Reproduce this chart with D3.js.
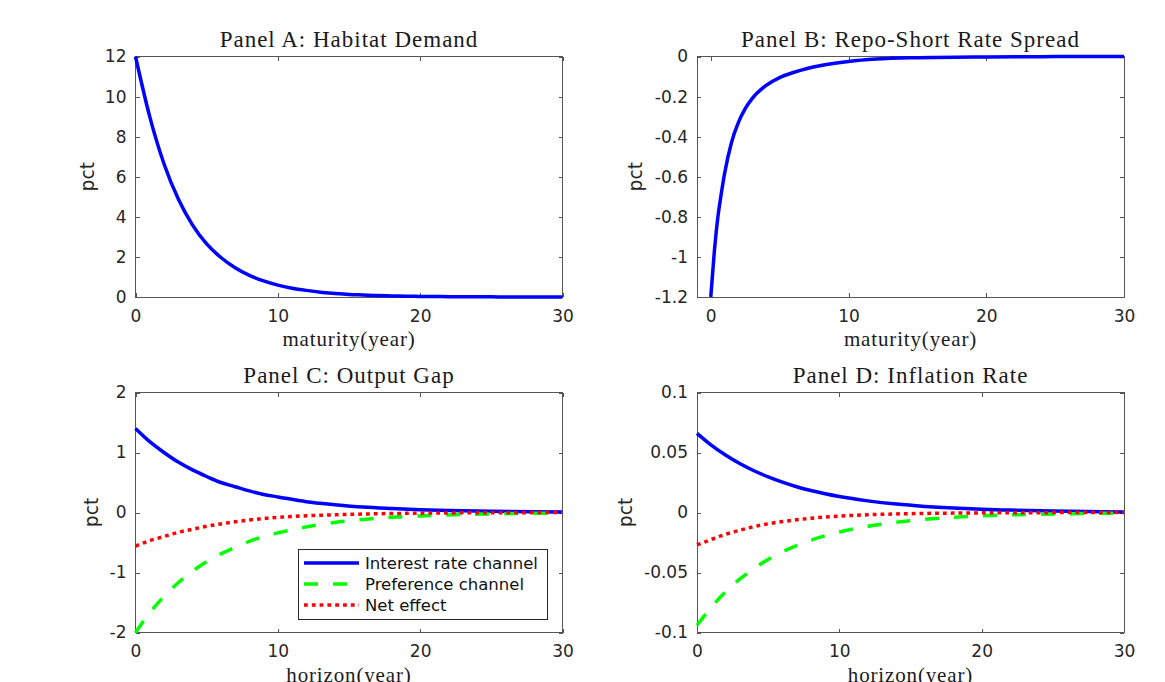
<!DOCTYPE html>
<html>
<head>
<meta charset="utf-8">
<script src="https://cdn.jsdelivr.net/npm/d3@7"></script>
<style>
  body { margin: 0; background: #fff; }
  svg { display: block; }
  .tick text { font-family: "DejaVu Sans", sans-serif; font-size: 17px; fill: #262626; }
  .title, .xlabel { font-family: "Liberation Serif", serif; fill: #1a1a1a; }
  .ylabel { font-family: "DejaVu Sans", sans-serif; font-size: 18.7px; fill: #262626; }
  .legend text { font-family: "DejaVu Sans", sans-serif; font-size: 16.5px; fill: #111; }
</style>
</head>
<body>
<div id="canvas"></div>
<script>
'use strict';

// Panel A: habitat demand by maturity
const maturityA = [0, 1, 2, 3, 4, 5, 6, 7, 8, 9, 10, 11, 12, 13, 14, 15, 16, 17, 18, 19, 20,
  21, 22, 23, 24, 25, 26, 27, 28, 29, 30];
const habitatDemand = [12.0, 9.0, 6.65, 4.9, 3.6, 2.65, 1.97, 1.46, 1.08, 0.8, 0.59, 0.44,
  0.33, 0.24, 0.18, 0.13, 0.1, 0.07, 0.055, 0.04, 0.03, 0.022, 0.016, 0.012, 0.009, 0.007,
  0.005, 0.004, 0.003, 0.002, 0.002];

// Panel B: repo-short rate spread by maturity
const maturityB = [0, 0.25, 0.5, 0.75, 1, 1.5, 2, 2.5, 3, 4, 5, 6, 7, 8, 10, 12, 15, 20, 25, 30];
const repoSpread = [-1.2, -0.98, -0.81, -0.69, -0.585, -0.43, -0.33, -0.26, -0.21, -0.145,
  -0.105, -0.08, -0.06, -0.045, -0.025, -0.013, -0.006, -0.002, -0.0005, 0];

// Panels C and D: impulse responses by horizon
const horizon = [0, 1, 2, 3, 4, 5, 6, 7, 8, 9, 10, 12, 14, 16, 18, 20, 22, 25, 30];
const outputInterest = [1.4, 1.18, 1.0, 0.84, 0.71, 0.6, 0.5, 0.43, 0.36, 0.3, 0.26, 0.18,
  0.13, 0.09, 0.066, 0.047, 0.033, 0.02, 0.009];
const outputPreference = [-2.0, -1.67, -1.4, -1.17, -0.98, -0.82, -0.69, -0.58, -0.48, -0.4,
  -0.34, -0.24, -0.166, -0.116, -0.081, -0.057, -0.04, -0.023, -0.01];
const outputNet = [-0.56, -0.47, -0.4, -0.33, -0.28, -0.23, -0.19, -0.155, -0.125, -0.1,
  -0.08, -0.055, -0.038, -0.026, -0.017, -0.011, -0.007, -0.004, -0.001];
const inflationInterest = [0.066, 0.0562, 0.0479, 0.0408, 0.0348, 0.0297, 0.0253, 0.0215,
  0.0183, 0.0156, 0.0133, 0.0097, 0.007, 0.0051, 0.0037, 0.0027, 0.002, 0.0012, 0.0005];
const inflationPreference = [-0.094, -0.079, -0.0662, -0.0556, -0.0466, -0.0391, -0.0328,
  -0.0276, -0.0231, -0.0194, -0.0163, -0.0115, -0.0081, -0.0057, -0.004, -0.0028, -0.002,
  -0.0012, -0.0005];
const inflationNet = [-0.027, -0.0225, -0.0182, -0.0148, -0.0118, -0.0094, -0.0075, -0.0061,
  -0.0048, -0.0038, -0.003, -0.0019, -0.0012, -0.0008, -0.0005, -0.0003, -0.0002, -0.0001, 0];

const seriesNames = ['Interest rate channel', 'Preference channel', 'Net effect'];
const xTicks = [0, 10, 20, 30];
const yTicksA = [0, 2, 4, 6, 8, 10, 12];
const yTicksB = [-1.2, -1, -0.8, -0.6, -0.4, -0.2, 0];
const yTicksC = [-2, -1, 0, 1, 2];
const yTicksD = [-0.1, -0.05, 0, 0.05, 0.1];

const styles = [
  {color: '#0000ff', dash: null},
  {color: '#00ff00', dash: '14,15'},
  {color: '#ff0000', dash: '3.8,4'},
];

const svg = d3.select('#canvas').append('svg')
    .attr('width', 1165)
    .attr('height', 682);

/* Each panel: box geometry in pixels, domains, ticks and line series. */
function drawPanel(p) {
  const x = d3.scaleLinear().domain(p.xDomain).range([p.left, p.right]);
  const y = d3.scaleLinear().domain(p.yDomain).range([p.bottom, p.top]);
  const g = svg.append('g');
  const fmt = (d) => String(d);

  g.append('g')
      .attr('transform', `translate(0,${p.bottom})`)
      .call(d3.axisBottom(x).tickValues(xTicks).tickSize(-4).tickPadding(12.5).tickFormat(fmt));
  g.append('g')
      .attr('transform', `translate(0,${p.top})`)
      .call(d3.axisTop(x).tickValues(xTicks).tickSize(-4).tickFormat(''));
  g.append('g')
      .attr('transform', `translate(${p.left},0)`)
      .call(d3.axisLeft(y).tickValues(p.yTicks).tickSize(-4).tickPadding(9).tickFormat(fmt));
  g.append('g')
      .attr('transform', `translate(${p.right},0)`)
      .call(d3.axisRight(y).tickValues(p.yTicks).tickSize(-4).tickFormat(''));
  g.selectAll('.domain').remove();
  g.selectAll('.tick line')
      .attr('stroke', '#555')
      .attr('shape-rendering', 'crispEdges');

  g.append('rect')
      .attr('x', p.left).attr('y', p.top)
      .attr('width', p.right - p.left).attr('height', p.bottom - p.top)
      .attr('fill', 'none').attr('stroke', '#555')
      .attr('shape-rendering', 'crispEdges');

  const line = d3.line()
      .x((d) => x(d[0]))
      .y((d) => y(d[1]))
      .curve(d3.curveMonotoneX);

  p.series.forEach((values, i) => {
    const s = styles[i];
    g.append('path')
        .datum(p.xs.map((t, j) => [t, values[j]]))
        .attr('fill', 'none')
        .attr('stroke', s.color)
        .attr('stroke-width', 3.5)
        .attr('stroke-dasharray', s.dash)
        .attr('d', line);
  });

  const cx = (p.left + p.right) / 2;
  g.append('text')
      .attr('class', 'title')
      .attr('x', cx).attr('y', p.top - 10)
      .attr('text-anchor', 'middle')
      .style('font-size', '23px')
      .style('letter-spacing', '1px')
      .text(p.title);
  g.append('text')
      .attr('class', 'xlabel')
      .attr('x', cx).attr('y', p.bottom + 49)
      .attr('text-anchor', 'middle')
      .style('font-size', '21px')
      .style('letter-spacing', '0.85px')
      .text(p.xLabel);
  g.append('text')
      .attr('class', 'ylabel')
      .attr('transform', `translate(${p.yLabelX},${(p.top + p.bottom) / 2}) rotate(-90)`)
      .attr('dy', '0.25em')
      .attr('text-anchor', 'middle')
      .text('pct');

  if (p.legend) {
    const lg = g.append('g').attr('class', 'legend');
    lg.append('rect')
        .attr('x', 298.5).attr('y', 549.5).attr('width', 249).attr('height', 70)
        .attr('fill', '#fff').attr('stroke', '#262626')
        .attr('shape-rendering', 'crispEdges');
    seriesNames.forEach((name, i) => {
      const ry = 563 + i * 21;
      lg.append('line')
          .attr('x1', 304).attr('x2', 359).attr('y1', ry).attr('y2', ry)
          .attr('stroke', styles[i].color)
          .attr('stroke-width', 3.5)
          .attr('stroke-dasharray', styles[i].dash);
      lg.append('text')
          .attr('x', 365).attr('y', ry)
          .attr('dy', '0.36em')
          .text(name);
    });
  }
}

drawPanel({
  title: 'Panel A: Habitat Demand', xLabel: 'maturity(year)',
  left: 135.5, right: 562.5, top: 56.5, bottom: 297,
  xDomain: [0, 30], yDomain: [0, 12], yTicks: yTicksA, yLabelX: 89,
  xs: maturityA, series: [habitatDemand],
});
drawPanel({
  title: 'Panel B: Repo-Short Rate Spread', xLabel: 'maturity(year)',
  left: 697, right: 1124, top: 56.5, bottom: 297,
  xDomain: [-1, 30], yDomain: [-1.2, 0], yTicks: yTicksB, yLabelX: 637,
  xs: maturityB, series: [repoSpread],
});
drawPanel({
  title: 'Panel C: Output Gap', xLabel: 'horizon(year)',
  left: 135.5, right: 562.5, top: 392.5, bottom: 632.5,
  xDomain: [0, 30], yDomain: [-2, 2], yTicks: yTicksC, yLabelX: 93,
  xs: horizon, series: [outputInterest, outputPreference, outputNet], legend: true,
});
drawPanel({
  title: 'Panel D: Inflation Rate', xLabel: 'horizon(year)',
  left: 697, right: 1124, top: 392.5, bottom: 632.5,
  xDomain: [0, 30], yDomain: [-0.1, 0.1], yTicks: yTicksD, yLabelX: 627,
  xs: horizon, series: [inflationInterest, inflationPreference, inflationNet],
});
</script>
</body>
</html>
